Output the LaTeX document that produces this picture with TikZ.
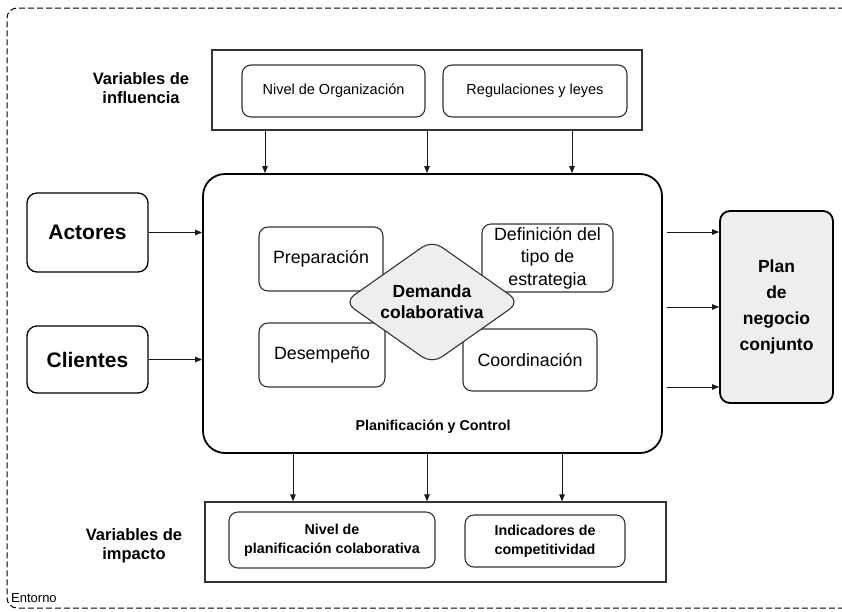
\documentclass[tikz,border=0pt]{standalone}
\usepackage{fontspec}
\setmainfont{Liberation Sans}
\usetikzlibrary{arrows.meta,shapes.geometric}
\definecolor{boxgray}{HTML}{EEEEEE}
\definecolor{linegray}{HTML}{333333}
\begin{document}
\begin{tikzpicture}[x=1pt,y=-1pt,
  arr/.style={draw=black!90, line width=0.9pt, -{Triangle[length=7pt,width=5.5pt]}},
  rbox/.style={draw=linegray, line width=1.1pt, rounded corners=9pt, align=center, inner sep=0pt},
  sqbox/.style={draw=linegray, line width=1.3pt, inner sep=0pt},
  bigbox/.style={draw=black, line width=1.8pt, rounded corners=10pt, align=center, inner sep=0pt},
  lbl/.style={align=center, inner sep=0pt},
  f17/.style={font=\fontsize{17.8}{22.5}\selectfont},
  f14/.style={font=\fontsize{14.5}{19}\selectfont},
  fb14/.style={font=\bfseries\fontsize{14.3}{19}\selectfont},
  fvar/.style={font=\bfseries\fontsize{16.5}{19}\selectfont},
  envline/.style={draw=black, line width=1pt, dash pattern=on 6pt off 3pt, rounded corners=10pt},
]
\useasboundingbox (0,0) rectangle (842,611);
\fill[white] (0,0) rectangle (842,611);
% environment frame (its right side lies beyond the picture)
\coordinate (envtr) at (880,8);
\coordinate (envtl) at (7,8);
\coordinate (envbl) at (7,608);
\coordinate (envbr) at (880,608);
\draw[envline] (envtr) -- (envtl) -- (envbl) -- (envbr);
\node (entorno) [lbl, anchor=west, font=\fontsize{13}{15}\selectfont] at (11,598) {Entorno};

% top: influence variables
\node (topbox) [sqbox, minimum width=430pt, minimum height=80pt] at (427,90) {};
\node (nivelorg) [rbox, minimum width=183pt, minimum height=52pt, f14] at (333.5,91) {Nivel de Organización};
\node (regul) [rbox, minimum width=184pt, minimum height=52pt, f14] at (535,91) {Regulaciones y leyes};
\node (varinf) [lbl, fvar] at (141,88) {Variables de\\influencia};

% main box
\node (main) [bigbox, rounded corners=22pt, minimum width=459pt, minimum height=279pt] at (432.5,313.5) {};
\node (prep) [rbox, minimum width=124pt, minimum height=64pt, f17] at (321,259) {Preparación};
\node (desem) [rbox, minimum width=126pt, minimum height=64pt, f17] at (322,355) {Desempeño};
\node (defin) [rbox, minimum width=131pt, minimum height=68pt, f17] at (547.5,258) {Definición del\\tipo de\\estrategia};
\node (coord) [rbox, minimum width=134pt, minimum height=62pt, f17] at (530,360) {Coordinación};
\node (dem) [diamond, draw=linegray, line width=1.1pt, fill=boxgray, rounded corners=12pt,
  minimum width=176pt, minimum height=124pt, inner sep=0pt] at (432,302) {};
\node (demtext) [lbl, font=\bfseries\fontsize{17.5}{21}\selectfont] at (dem.center) {Demanda\\colaborativa};
\node (plancontrol) [lbl, fb14] at (433,427) {Planificación y Control};

% left inputs
\node (actores) [bigbox, line width=1.3pt, minimum width=121pt, minimum height=79pt,
  font=\bfseries\fontsize{21}{24}\selectfont] at (87.5,232.5) {Actores};
\node (clientes) [bigbox, line width=1.3pt, minimum width=121pt, minimum height=67pt,
  font=\bfseries\fontsize{21}{24}\selectfont] at (87.5,359.5) {Clientes};

% right output
\node (plan) [bigbox, fill=boxgray, minimum width=113pt, minimum height=192pt,
  font=\bfseries\fontsize{17.5}{26}\selectfont] at (776.5,307) {Plan\\de\\negocio\\conjunto};

% bottom: impact variables
\node (botbox) [sqbox, minimum width=461pt, minimum height=80pt] at (435.5,542) {};
\node (nivelplan) [rbox, minimum width=206pt, minimum height=56pt, fb14] at (332,540) {Nivel de\\planificación colaborativa};
\node (indic) [rbox, minimum width=160pt, minimum height=52pt, fb14] at (545,541) {Indicadores de\\competitividad};
\node (varimp) [lbl, fvar] at (134,546) {Variables de\\impacto};

% arrow guide coordinates
\coordinate (t1) at (265,0);
\coordinate (t2) at (427,0);
\coordinate (t3) at (572,0);
\coordinate (b1) at (293,0);
\coordinate (b2) at (427,0);
\coordinate (b3) at (562,0);
\coordinate (r1) at (0,232);
\coordinate (r2) at (0,307);
\coordinate (r3) at (0,387);

\draw[arr] (topbox.south -| t1) -- (main.north -| t1);
\draw[arr] (topbox.south -| t2) -- (main.north -| t2);
\draw[arr] (topbox.south -| t3) -- (main.north -| t3);

\draw[arr] (main.south -| b1) -- (botbox.north -| b1);
\draw[arr] (main.south -| b2) -- (botbox.north -| b2);
\draw[arr] (main.south -| b3) -- (botbox.north -| b3);

\draw[arr] (actores.east) -- (main.west |- actores.east);
\draw[arr] (clientes.east) -- (main.west |- clientes.east);

\draw[arr] ([xshift=4pt]main.east |- r1) -- (plan.west |- r1);
\draw[arr] ([xshift=4pt]main.east |- r2) -- (plan.west |- r2);
\draw[arr] ([xshift=4pt]main.east |- r3) -- (plan.west |- r3);
\end{tikzpicture}
\end{document}
